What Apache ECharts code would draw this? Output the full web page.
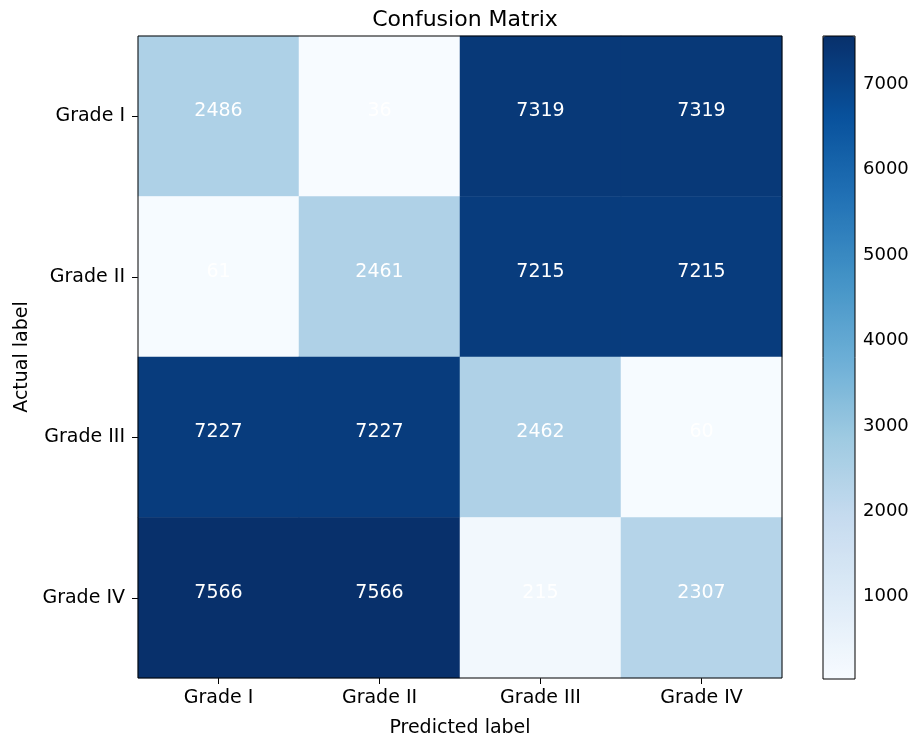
<!DOCTYPE html>
<html>
<head>
<meta charset="utf-8">
<script src="https://cdn.jsdelivr.net/npm/echarts@6/dist/echarts.min.js"></script>
<style>
  html, body { margin: 0; padding: 0; background: #fff; }
  #chart { width: 924px; height: 743px; }
</style>
</head>
<body>
<div id="chart"></div>
<script>
// Class names along both axes
const predictedLabels = ['Grade I', 'Grade II', 'Grade III', 'Grade IV'];
const actualLabels = ['Grade I', 'Grade II', 'Grade III', 'Grade IV'];

// Counts per actual class (rows), ordered by predicted class
const rowGradeI = [2486, 36, 7319, 7319];
const rowGradeII = [61, 2461, 7215, 7215];
const rowGradeIII = [7227, 7227, 2462, 60];
const rowGradeIV = [7566, 7566, 215, 2307];

// Colour bar tick values
const colorbarTicks = [1000, 2000, 3000, 4000, 5000, 6000, 7000];

// Matplotlib "Blues" colour map
const bluesMap = ['#f7fbff', '#deebf7', '#c6dbef', '#9ecae1', '#6baed6', '#4292c6', '#2171b5', '#08519c', '#08306b'];

const rows = [rowGradeI, rowGradeII, rowGradeIII, rowGradeIV];
const cells = [];
rows.forEach((row, r) => row.forEach((v, c) => cells.push([c, r, v])));
const allValues = cells.map(d => d[2]);
const vMin = Math.min(...allValues);
const vMax = Math.max(...allValues);

const FONT = 'DejaVu Sans';
const FS = 19;
const plot = { left: 138, top: 36, width: 644, height: 643 };
const bar = { left: 823, top: 36, width: 32, height: 643 };

const chart = echarts.init(document.getElementById('chart'), null, { renderer: 'canvas' });
chart.setOption({
  backgroundColor: '#ffffff',
  animation: false,
  textStyle: { fontFamily: FONT },
  title: {
    text: 'Confusion Matrix',
    left: plot.left + plot.width / 2,
    textAlign: 'center',
    top: 4,
    textStyle: { fontFamily: FONT, fontSize: 22, fontWeight: 'normal', color: '#000' }
  },
  grid: [
    {
      left: plot.left, top: plot.top, width: plot.width, height: plot.height,
      show: true, borderColor: '#000', borderWidth: 1, backgroundColor: 'transparent', z: 5
    },
    {
      left: bar.left, top: bar.top, width: bar.width, height: bar.height,
      show: true, borderColor: '#000', borderWidth: 1, backgroundColor: 'transparent', z: 5
    }
  ],
  xAxis: [
    {
      type: 'category', gridIndex: 0, data: predictedLabels, position: 'bottom',
      name: 'Predicted label', nameLocation: 'middle', nameGap: 41,
      nameTextStyle: { fontFamily: FONT, fontSize: FS, color: '#000' },
      axisLine: { show: false },
      axisTick: { show: true, alignWithLabel: true, length: 6, lineStyle: { color: '#000' } },
      axisLabel: { fontFamily: FONT, fontSize: FS, color: '#000', margin: 11 },
      splitLine: { show: false }
    },
    {
      type: 'value', gridIndex: 1, show: false
    }
  ],
  yAxis: [
    {
      type: 'category', gridIndex: 0, data: actualLabels, inverse: true,
      name: 'Actual label', nameLocation: 'middle', nameGap: 106, nameRotate: 90,
      nameTextStyle: { fontFamily: FONT, fontSize: FS, color: '#000' },
      axisLine: { show: false },
      axisTick: { show: true, alignWithLabel: true, length: 6, lineStyle: { color: '#000' } },
      axisLabel: { fontFamily: FONT, fontSize: FS, color: '#000', margin: 13 },
      splitLine: { show: false }
    },
    {
      type: 'value', gridIndex: 1, position: 'right', min: vMin, max: vMax,
      axisLine: { show: false },
      axisTick: { show: true, length: 6, lineStyle: { color: '#000' }, customValues: colorbarTicks },
      axisLabel: {
        fontFamily: FONT, fontSize: 18, color: '#000', margin: 8,
        customValues: colorbarTicks,
        formatter: v => String(v)
      },
      splitLine: { show: false }
    }
  ],
  visualMap: {
    type: 'continuous',
    min: vMin, max: vMax,
    seriesIndex: 0,
    calculable: false,
    orient: 'vertical',
    left: bar.left, top: bar.top,
    itemWidth: bar.width, itemHeight: bar.height,
    padding: 0,
    text: null,
    showLabel: false,
    hoverLink: false,
    inRange: { color: bluesMap }
  },
  series: [
    {
      type: 'heatmap',
      xAxisIndex: 0, yAxisIndex: 0,
      data: cells,
      label: {
        show: true,
        color: '#ffffff',
        fontFamily: FONT,
        fontSize: FS,
        offset: [0, -5],
        formatter: p => String(p.value[2])
      },
      itemStyle: { borderWidth: 0 },
      emphasis: { disabled: true }
    }
  ]
});
</script>
</body>
</html>
